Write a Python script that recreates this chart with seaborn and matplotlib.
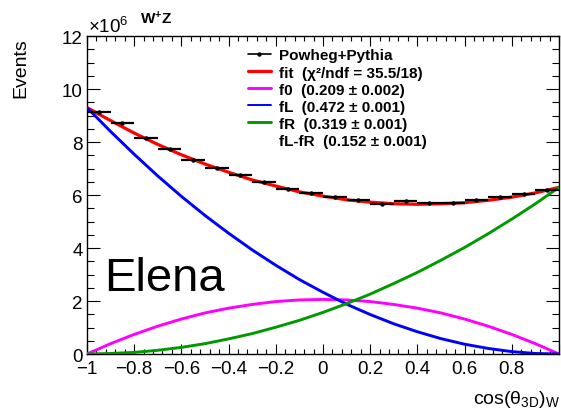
import matplotlib
matplotlib.use("Agg")
import matplotlib.pyplot as plt
import seaborn as sns
from matplotlib.lines import Line2D
from matplotlib.ticker import MultipleLocator, FixedLocator

# =====================================
# STYLE
# =====================================

sns.set_style("ticks")
plt.rcParams['font.family'] = ['Liberation Sans', 'DejaVu Sans']
plt.rcParams['mathtext.fontset'] = 'custom'
plt.rcParams['mathtext.rm'] = 'Liberation Sans'
plt.rcParams['mathtext.it'] = 'Liberation Sans:italic'
plt.rcParams['mathtext.bf'] = 'Liberation Sans:bold'
plt.rcParams['mathtext.default'] = 'regular'
plt.rcParams['text.color'] = 'black'
plt.rcParams['axes.labelcolor'] = 'black'
plt.rcParams['xtick.color'] = 'black'
plt.rcParams['ytick.color'] = 'black'

# =====================================
# DATA  (Events in units of 1e6)
# =====================================

bin_centers = [-0.95, -0.85, -0.75, -0.65, -0.55, -0.45, -0.35, -0.25, -0.15, -0.05,
               0.05, 0.15, 0.25, 0.35, 0.45, 0.55, 0.65, 0.75, 0.85, 0.95]
bin_half_width = 0.05
powheg_pythia = [9.12, 8.72, 8.15, 7.74, 7.31, 7.02, 6.74, 6.50, 6.23, 6.08,
                 5.94, 5.81, 5.67, 5.78, 5.70, 5.69, 5.82, 5.91, 6.05, 6.20]

curve_x = [-1.0, -0.9, -0.8, -0.7, -0.6, -0.5, -0.4, -0.3, -0.2, -0.1, 0.0,
           0.1, 0.2, 0.3, 0.4, 0.5, 0.6, 0.7, 0.8, 0.9, 1.0]
fit_curve = [9.30, 8.81, 8.34, 7.91, 7.52, 7.17, 6.86, 6.57, 6.34, 6.12, 5.96,
             5.82, 5.73, 5.67, 5.65, 5.67, 5.71, 5.80, 5.92, 6.08, 6.29]
f0_curve = [0.00, 0.39, 0.74, 1.05, 1.32, 1.55, 1.73, 1.87, 1.98, 2.04, 2.06,
            2.04, 1.98, 1.87, 1.73, 1.55, 1.32, 1.05, 0.74, 0.39, 0.00]
fL_curve = [9.30, 8.40, 7.54, 6.72, 5.95, 5.23, 4.56, 3.93, 3.35, 2.81, 2.33,
            1.88, 1.49, 1.14, 0.84, 0.58, 0.37, 0.21, 0.09, 0.02, 0.00]
fR_curve = [0.00, 0.02, 0.06, 0.14, 0.25, 0.39, 0.57, 0.77, 1.01, 1.27, 1.57,
            1.90, 2.26, 2.66, 3.08, 3.54, 4.02, 4.54, 5.09, 5.67, 6.29]

legend_labels = [
    "Powheg+Pythia",
    "fit  (χ²/ndf = 35.5/18)",
    "f0  (0.209 ± 0.002)",
    "fL  (0.472 ± 0.001)",
    "fR  (0.319 ± 0.001)",
    "fL-fR  (0.152 ± 0.001)",
]

x_tick_values = [-1.0, -0.8, -0.6, -0.4, -0.2, 0.0, 0.2, 0.4, 0.6, 0.8]
x_tick_labels = ["−1", "−0.8", "−0.6", "−0.4", "−0.2", "0", "0.2", "0.4", "0.6", "0.8"]
y_tick_values = [0, 2, 4, 6, 8, 10, 12]

RED = "#ff0000"
MAGENTA = "#ff00ff"
BLUE = "#0000ff"
GREEN = "#009a00"

# =====================================
# FIGURE
# =====================================

fig = plt.figure(figsize=(5.61, 4.14), dpi=100)
ax = fig.add_axes([0.155, 0.1425, 0.8414, 0.768])

sns.lineplot(x=curve_x, y=fit_curve, color=RED, linewidth=2.3, ax=ax, zorder=3)
sns.lineplot(x=curve_x, y=f0_curve, color=MAGENTA, linewidth=2.1, ax=ax, zorder=3)
sns.lineplot(x=curve_x, y=fL_curve, color=BLUE, linewidth=2.1, ax=ax, zorder=3)
sns.lineplot(x=curve_x, y=fR_curve, color=GREEN, linewidth=2.1, ax=ax, zorder=3)

ax.errorbar(
    bin_centers,
    powheg_pythia,
    xerr=bin_half_width,
    fmt='o',
    ms=2.2,
    color='black',
    elinewidth=1.6,
    capsize=0,
    zorder=4
)

# =====================================
# AXES
# =====================================

ax.set_xlim(-1, 1)
ax.set_ylim(0, 12)

ax.xaxis.set_major_locator(FixedLocator(x_tick_values + [1.0]))
ax.set_xticklabels(x_tick_labels + [""])
ax.xaxis.set_minor_locator(MultipleLocator(0.04))
ax.yaxis.set_major_locator(FixedLocator(y_tick_values))
ax.yaxis.set_minor_locator(MultipleLocator(0.5))

ax.tick_params(which='both', direction='in', top=True, right=True,
               width=0.8, labelsize=13.5, colors='black')
ax.tick_params(axis='x', which='major', length=7.2, pad=4.5)
ax.tick_params(axis='x', which='minor', length=3.6)
ax.tick_params(axis='y', which='major', length=9.4, pad=3)
ax.tick_params(axis='y', which='minor', length=5)

for spine in ax.spines.values():
    spine.set_visible(True)
    spine.set_linewidth(1.0)
    spine.set_color('black')

ax.set_xlabel("")
ax.set_ylabel("")

# =====================================
# TEXTS
# =====================================

fig.text(0.037, 0.908, "Events", rotation=90, ha='center', va='top', fontsize=14)
fig.text(0.998, 0.024, r"cos($\theta_{3D}$)$_{W}$", ha='right', va='baseline', fontsize=14)
fig.text(88 / 561, (414 - 33) / 414, r"$\times10^{6}$", ha='left', va='baseline', fontsize=13.5)
fig.text(140 / 561, (414 - 24) / 414, r"$\mathbf{W^{+}Z}$", ha='left', va='baseline', fontsize=11)

ax.text(0.036, 0.200, "Elena", transform=ax.transAxes, ha='left', va='baseline', fontsize=34)

# =====================================
# LEGEND
# =====================================

handles = [
    Line2D([], [], color='black', marker='o', ms=2.2, linewidth=1.2),
    Line2D([], [], color=RED, linewidth=2.3),
    Line2D([], [], color=MAGENTA, linewidth=2.1),
    Line2D([], [], color=BLUE, linewidth=1.4),
    Line2D([], [], color=GREEN, linewidth=2.1),
    Line2D([], [], color='none'),
]

ax.legend(
    handles,
    legend_labels,
    loc='upper left',
    bbox_to_anchor=(0.341, 0.961),
    frameon=False,
    borderpad=0,
    borderaxespad=0,
    handlelength=1.5,
    handletextpad=0.52,
    labelspacing=0.2,
    prop={'weight': 'bold', 'size': 11}
)

fig.savefig("out.png", dpi=100)
